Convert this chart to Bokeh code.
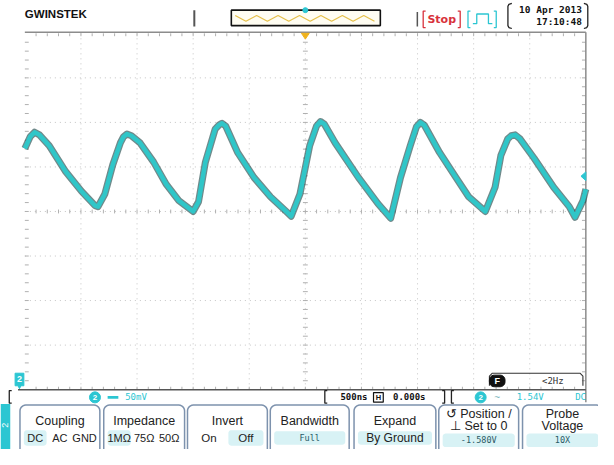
import numpy as np
from bokeh.plotting import figure
from bokeh.models import Range1d
from bokeh.embed import file_html
from bokeh.resources import INLINE
from bokeh.core.properties import value

# ---------------- data (CH2 trace) ----------------
time_us = [-2.500, -2.452, -2.413, -2.370, -2.283, -2.135, -1.996, -1.874, -1.848, -1.787, -1.717, -1.648, -1.620, -1.590,
           -1.550, -1.474, -1.352, -1.239, -1.126, -1.000, -0.952, -0.891, -0.804, -0.770, -0.743, -0.710,
           -0.604, -0.457, -0.309, -0.170, -0.126, -0.048, 0.039, 0.100, 0.135, 0.170,
           0.265, 0.474, 0.648, 0.761, 0.848, 0.935, 0.990, 1.025, 1.060,
           1.196, 1.343, 1.457, 1.604, 1.691, 1.743, 1.804, 1.835, 1.870, 1.910,
           2.039, 2.213, 2.352, 2.404, 2.474, 2.500]
ch2_mV = [70.7, 84.0, 89.0, 86.0, 73.9, 44.6, 22.8, 6.5, 5.4, 19.6, 52.2, 77.2, 84.0, 87.0,
          85.0, 77.2, 55.4, 30.4, 12.0, 0.0, 10.9, 55.4, 92.4, 97.0, 99.0, 96.0,
          66.3, 38.0, 16.3, 0.0, -5.4, 19.6, 73.9, 96.0, 101.0, 98.0,
          77.2, 38.0, 8.7, -7.6, 38.0, 73.9, 95.0, 100.0, 97.0,
          66.3, 38.0, 16.3, 0.0, 27.2, 63.0, 81.5, 85.0, 86.0, 82.0,
          59.8, 27.2, 5.4, -6.5, 12.0, 25.0]

# scope settings
time_per_div_ns = 500
volts_per_div_mV = 50
h_divs = 10
v_divs = 8

# readouts / labels
brand = "GWINSTEK"
run_state = "Stop"
date_text = "10 Apr 2013"
clock_text = "17:10:48"
ch_label = "2"
ch_scale = "50mV"
timebase = "500ns"
h_position = "0.000s"
trig_level = "1.54V"
trig_coupling = "DC"
freq_readout = "<2Hz"
menu_items = [
    (["Coupling"], ["DC", "AC", "GND"], 0),
    (["Impedance"], ["1MΩ", "75Ω", "50Ω"], 0),
    (["Invert"], ["On", "Off"], 1),
    (["Bandwidth"], ["Full"], 0),
    (["Expand"], ["By Ground"], 0),
    (["↺ Position /", "⊥ Set to 0"], ["-1.580V"], 0),
    (["Probe", "Voltage"], ["10X"], 0),
]

# ---------------- layout (reference pixel space) ----------------
W_REF, H_REF = 614, 465
GX0, GX1, GY0, GY1 = 25, 601, 34, 403
span_us = h_divs * time_per_div_ns / 1000.0
px_per_us = (GX1 - GX0) / span_us
px_per_mV = (GY1 - GY0) / (v_divs * volts_per_div_mV)
yc = (GY0 + GY1) / 2.0

x_start = -span_us / 2 - GX0 / px_per_us
x_end = span_us / 2 + (W_REF - GX1) / px_per_us
y_start = -(H_REF - yc) / px_per_mV
y_end = yc / px_per_mV

p = figure(width=598, height=449, x_range=Range1d(x_start, x_end),
           y_range=Range1d(y_start, y_end), toolbar_location=None,
           output_backend="svg", x_axis_type=None, y_axis_type=None,
           min_border=0, outline_line_color=None,
           background_fill_color="white", border_fill_color="white")
p.extra_x_ranges = {"px": Range1d(0, W_REF)}
p.extra_y_ranges = {"py": Range1d(H_REF, 0)}
PX = dict(x_range_name="px", y_range_name="py")

CYAN = "#2cc6d2"
TRACE = "#30c6c8"
RED = "#d8323c"


def txt(x, y, s, size=11, color="#222222", align="left", bold=False,
        font="Liberation Sans", baseline="middle", angle=0.0):
    p.text(x=[x], y=[y], text=[s], text_font=value(font),
           text_font_size=f"{size}px", text_color=color, text_align=align,
           text_baseline=baseline, text_font_style="bold" if bold else "normal",
           angle=angle, **PX)


def ln(xs, ys, color="#888888", width=1.0, dash="solid", alpha=1.0):
    p.line(xs, ys, line_color=color, line_width=width, line_dash=dash,
           line_alpha=alpha, **PX)


def rrect(x0, y0, x1, y1, r):
    xs, ys = [], []
    for cx, cy, a0 in [(x1 - r, y0 + r, -90), (x1 - r, y1 - r, 0),
                       (x0 + r, y1 - r, 90), (x0 + r, y0 + r, 180)]:
        for a in np.radians(np.linspace(a0, a0 + 90, 7)):
            xs.append(cx + r * np.cos(a))
            ys.append(cy + r * np.sin(a))
    return xs, ys


def bracket(x, y0, y1, side, color="#222222", width=1.3):
    d = 2.5 if side == "left" else -2.5
    ln([x + d, x, x, x + d], [y0, y0, y1, y1], color=color, width=width)


# ---------------- graticule ----------------
dx = (GX1 - GX0) / h_divs
dy = (GY1 - GY0) / v_divs
vx = [GX0 + k * dx for k in range(1, h_divs)]
hy = [GY0 + k * dy for k in range(1, v_divs)]
p.multi_line([[x, x] for x in vx], [[GY0, GY1]] * len(vx),
             line_color="#c4c4c4", line_width=1, line_dash="1 4", **PX)
p.multi_line([[GX0, GX1]] * len(hy), [[y, y] for y in hy],
             line_color="#c4c4c4", line_width=1, line_dash="1 4", **PX)

# minor tick marks on edges and centre cross
mx = [GX0 + k * dx / 5 for k in range(1, h_divs * 5)]
my = [GY0 + k * dy / 5 for k in range(1, v_divs * 5)]
cx_ = (GX0 + GX1) / 2
tick_x, tick_y = [], []
for x in mx:
    tick_x += [[x, x], [x, x], [x, x]]
    tick_y += [[GY0, GY0 + 3], [GY1 - 3, GY1], [yc - 2, yc + 2]]
for y in my:
    tick_x += [[GX0, GX0 + 4], [GX1 - 4, GX1], [cx_ - 2.5, cx_ + 2.5]]
    tick_y += [[y, y], [y, y], [y, y]]
p.multi_line(tick_x, tick_y, line_color="#b0b0b0", line_width=1, **PX)

# borders
ln([GX0, GX1], [GY0 - 1, GY0 - 1], color="#8c8c8c", width=1.5)
ln([GX1, GX1], [GY0 - 1, 416], color="#8c8c8c", width=1.5)
ln([18, GX1], [GY1, GY1], color="#555555", width=1.5)

# ---------------- waveform ----------------
p.line(time_us, ch2_mV, line_color="#103c3e", line_width=7, line_alpha=0.6,
       line_join="round")
p.line(time_us, ch2_mV, line_color=TRACE, line_width=4.5, line_join="round")

# markers on the graticule
p.patch([309, 317, 313], [GY0, GY0, GY0 + 6], fill_color="#f0b21c",
        line_color="#f0b21c", **PX)
p.patch([596, GX1, GX1], [182, 177.5, 186.5], fill_color=CYAN,
        line_color=CYAN, **PX)
p.patch([15, 24, 24, 21, 19.5, 18, 15], [386, 386, 399, 399, 402, 399, 399],
        fill_color=CYAN, line_color=CYAN, **PX)
txt(19.5, 392.5, ch_label, size=9, color="white", align="center", bold=True)

# ---------------- top bar ----------------
txt(25, 14, brand, size=11.5, color="#111111", bold=True)
ln([199, 199], [10, 27], color="#555555", width=2)
p.quad(left=[237], right=[390], top=[10], bottom=[26], fill_color="#fffdf2",
       line_color="#111111", line_width=1.6, **PX)
zig_x = list(np.arange(241, 388, 11))
zig_y = [15.5 if i % 2 == 0 else 21.5 for i in range(len(zig_x))]
ln(zig_x, zig_y, color="#e6c04a", width=1.2)
p.scatter([313], [10], size=5, color=CYAN, **PX)

ln([428, 428], [12, 27], color="#555555", width=1.5)
bracket(434, 11, 28, "left", color=RED)
txt(453, 19.5, run_state, size=11, color=RED, bold=True, font="DejaVu Sans",
    align="center")
bracket(472, 11, 28, "right", color=RED)
bracket(480, 11, 28, "left", color=CYAN)
ln([485, 489, 489, 501, 501, 505], [24, 24, 14, 14, 24, 24], color=CYAN, width=1.3)
bracket(509, 11, 28, "right", color=CYAN)

dx0, dx1 = 521, 603
ln([dx0 + 4, dx0 + 1, dx0, dx0, dx0 + 1, dx0 + 4], [3, 4, 6, 26, 28, 29], color="#222222", width=1.3)
ln([dx1 - 4, dx1 - 1, dx1, dx1, dx1 - 1, dx1 - 4], [3, 4, 6, 26, 28, 29], color="#222222", width=1.3)
txt(597, 9.5, date_text, size=9.5, color="#111111", bold=True,
    font="DejaVu Sans Mono", align="right")
txt(597, 22, clock_text, size=9.5, color="#111111", bold=True,
    font="DejaVu Sans Mono", align="right")

# ---------------- frequency readout ----------------
ln([502, 502, 505, 595, 598, 598], [399, 389, 386, 386, 389, 399], color="#333333", width=1.1)
p.patch(*rrect(502, 388, 518, 400, 5), fill_color="#111111", line_color="#111111", **PX)
txt(510, 394.5, "F", size=9, color="white", bold=True, align="center")
txt(556, 394.5, freq_readout, size=9, color="#333333", font="DejaVu Sans Mono")

# ---------------- status row ----------------
ry = 411
bracket(9, 404, 417, "left")
p.scatter([97], [ry], size=11, color=CYAN, **PX)
txt(97, ry + 0.5, ch_label, size=8, color="white", bold=True, align="center")
p.quad(left=[110], right=[121], top=[409.5], bottom=[412.5], fill_color=CYAN,
       line_color=None, **PX)
txt(128, ry, ch_scale, size=9, color=CYAN, font="DejaVu Sans Mono")

bracket(333, 404, 417, "left")
txt(349, ry, timebase, size=9, color="#111111", bold=True, font="DejaVu Sans Mono")
p.quad(left=[383], right=[393], top=[406], bottom=[416], fill_color="white",
       line_color="#111111", line_width=1.2, **PX)
txt(388, ry + 0.5, "H", size=7.5, color="#111111", bold=True, align="center")
txt(403, ry, h_position, size=9, color="#111111", bold=True, font="DejaVu Sans Mono")
bracket(456, 404, 417, "right")
bracket(463, 404, 417, "left")
p.scatter([493], [ry], size=11, color=CYAN, **PX)
txt(493, ry + 0.5, ch_label, size=8, color="white", bold=True, align="center")
txt(510, ry, "~", size=10, color="#7fb8c0", align="center")
txt(530, ry, trig_level, size=9, color=CYAN, font="DejaVu Sans Mono")
txt(590, ry, trig_coupling, size=9, color=CYAN, font="DejaVu Sans Mono")

# ---------------- soft-key menu ----------------
p.quad(left=[0], right=[10], top=[418], bottom=[470], fill_color=CYAN,
       line_color=None, **PX)
txt(5, 440, ch_label, size=9, color="white", align="center", angle=np.pi / 2)

btn_x = [(20, 102), (106, 189), (192, 274), (277, 358), (363, 447), (450, 532), (536, 618)]
for (bx0, bx1), (titles, opts, sel) in zip(btn_x, menu_items):
    xs, ys = rrect(bx0, 419, bx1, 478, 6)
    p.patch(xs, ys, fill_color="white", line_color="#7d92ad", line_width=1.5, **PX)
    cxm = (bx0 + bx1) / 2
    if len(titles) == 1:
        txt(cxm, 436, titles[0], size=12.5, align="center")
        oy = 453
    else:
        txt(cxm, 428, titles[0], size=12.5, align="center")
        txt(cxm, 441, titles[1], size=12.5, align="center")
        oy = 455.5
    if len(opts) == 1:
        hw = (bx1 - bx0) / 2 - 4
        hx, hy_ = rrect(cxm - hw, oy - 7, cxm + hw, oy + 7, 3)
        p.patch(hx, hy_, fill_color="#d8f2f5", line_color=None, **PX)
        big = titles[0] == "Expand"
        txt(cxm, oy, opts[0], size=12 if big else 8.5,
            color="#222222" if big else "#2a5a66", align="center",
            font="Liberation Sans" if big else "DejaVu Sans Mono")
    else:
        n = len(opts)
        w = (bx1 - bx0 - 6) / n
        for i, o in enumerate(opts):
            ox = bx0 + 3 + w * (i + 0.5)
            if i == sel:
                hx, hy_ = rrect(ox - w / 2 + 1, oy - 8, ox + w / 2 - 1, oy + 8, 3)
                p.patch(hx, hy_, fill_color="#d8f2f5", line_color=None, **PX)
            txt(ox, oy, o, size=11.5 if n < 3 else 11, align="center")

open("out.html", "w").write(file_html(p, INLINE))
